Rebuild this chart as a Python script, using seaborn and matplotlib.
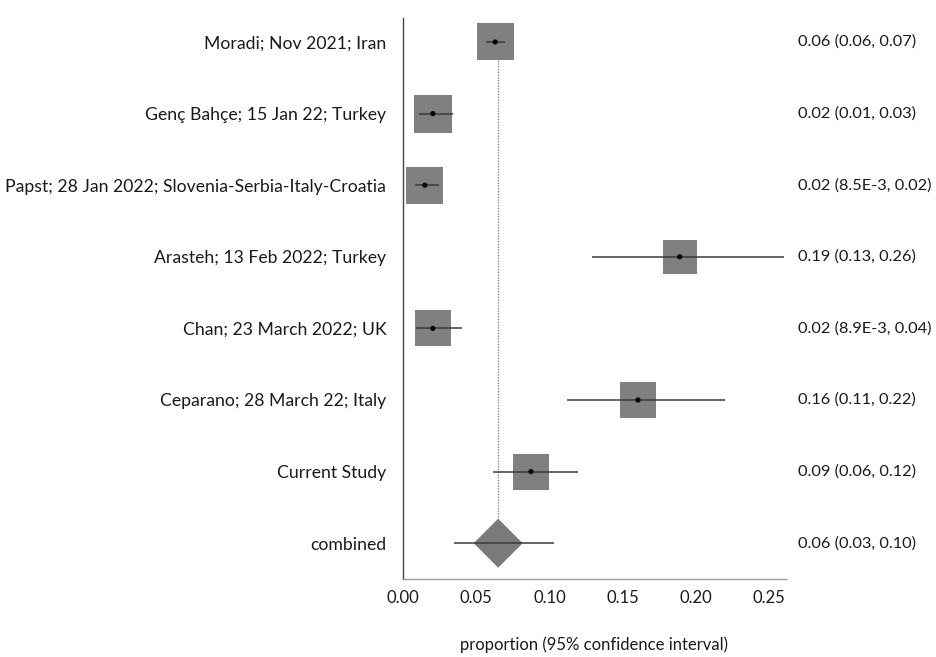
import numpy as np
import pandas as pd
import matplotlib
matplotlib.use("Agg")
import matplotlib.pyplot as plt
import seaborn as sns

# Study data
studies = [
    "Moradi; Nov 2021; Iran",
    "Genç Bahçe; 15 Jan 22; Turkey",
    "Papst; 28 Jan 2022; Slovenia-Serbia-Italy-Croatia",
    "Arasteh; 13 Feb 2022; Turkey",
    "Chan; 23 March 2022; UK",
    "Ceparano; 28 March 22; Italy",
    "Current Study",
]
estimates = [0.063, 0.0204, 0.0149, 0.189, 0.0204, 0.1605, 0.0874]
lower = [0.057, 0.011, 0.0085, 0.129, 0.0089, 0.112, 0.0615]
upper = [0.070, 0.034, 0.0249, 0.26, 0.040, 0.220, 0.1195]
weights = [37, 38, 37, 34, 36, 36, 36]
ci_labels = [
    "0.06 (0.06, 0.07)",
    "0.02 (0.01, 0.03)",
    "0.02 (8.5E-3, 0.02)",
    "0.19 (0.13, 0.26)",
    "0.02 (8.9E-3, 0.04)",
    "0.16 (0.11, 0.22)",
    "0.09 (0.06, 0.12)",
]

pooled_label = "combined"
pooled_est = 0.065
pooled_lower = 0.035
pooled_upper = 0.103
pooled_ci_label = "0.06 (0.03, 0.10)"

x_ticks = [0.00, 0.05, 0.10, 0.15, 0.20, 0.25]
x_title = "proportion (95% confidence interval)"

sns.set_theme(style="white")
plt.rcParams["font.family"] = ["Lato", "DejaVu Sans"]

dpi = 100
fig = plt.figure(figsize=(9.37, 6.57), dpi=dpi)
ax = fig.add_axes([403 / 937, 1 - 579 / 657, 383 / 937, 561 / 657])

rows = np.arange(len(studies))
df = pd.DataFrame({"study": studies, "est": estimates, "lo": lower,
                   "hi": upper, "w": weights, "row": rows})

# confidence interval lines
ax.hlines(df["row"], df["lo"], df["hi"], color="#3a3a3a", lw=1.1, zorder=3)
ax.hlines(len(studies), pooled_lower, pooled_upper, color="#3a3a3a", lw=1.1, zorder=3)

# weighted squares
sq_pt = df["w"] * 72 / dpi
sns.scatterplot(x="est", y="row", data=df, marker="s", s=sq_pt ** 2,
                color="#808080", edgecolor="none", linewidth=0, ax=ax,
                zorder=2, legend=False)
# point estimates
sns.scatterplot(x="est", y="row", data=df, marker="o", s=14, color="black",
                edgecolor="none", linewidth=0, ax=ax, zorder=4, legend=False)

# pooled diamond (diagonal of 'D' marker is sqrt(2) * sqrt(s))
diamond_side = 49 * 72 / dpi / np.sqrt(2)
ax.scatter([pooled_est], [len(studies)], marker="D", s=diamond_side ** 2,
           color="#7a7a7a", edgecolor="none", zorder=2)

# reference line at the pooled estimate
row_px = 71.6
ax.vlines(pooled_est, 0 + 18.5 / row_px, len(studies) - 23 / row_px,
          color="#888888", lw=1.0, linestyles=(0, (1, 1)), zorder=1)

ax.set_xlim(0, 0.2616)
ax.set_ylim(len(studies) + 0.5, -0.335)

labels = studies + [pooled_label]
ax.set_yticks(np.arange(len(labels)))
ax.set_yticklabels(labels, fontsize=12.7, color="#1a1a1a")
ax.tick_params(axis="y", length=0, pad=12)
ax.set_ylabel("")

ax.set_xticks(x_ticks)
ax.set_xticklabels([f"{t:.2f}" for t in x_ticks], fontsize=12, color="#1a1a1a")
ax.tick_params(axis="x", length=4, direction="inout", color="#999999", pad=6,
               width=0.8)
ax.set_xlabel(x_title, fontsize=12, color="#1a1a1a", labelpad=22)

for s in ["top", "right"]:
    ax.spines[s].set_visible(False)
ax.spines["left"].set_color("#444444")
ax.spines["left"].set_linewidth(1.0)
ax.spines["bottom"].set_color("#999999")
ax.spines["bottom"].set_linewidth(1.0)

# estimate and interval text on the right
for r, t in enumerate(ci_labels + [pooled_ci_label]):
    ax.text(1.031, r, t, transform=ax.get_yaxis_transform(), ha="left",
            va="center", fontsize=11.8, color="#1a1a1a")

fig.savefig("out.png", dpi=dpi)
